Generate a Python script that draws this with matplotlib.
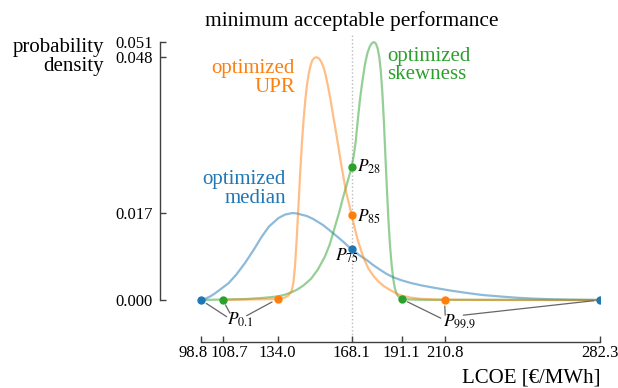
import numpy as np
import matplotlib
matplotlib.use("Agg")
import matplotlib.pyplot as plt
from matplotlib.transforms import ScaledTranslation

plt.rcParams['font.family'] = ['Liberation Serif', 'DejaVu Serif']
plt.rcParams['mathtext.fontset'] = 'stix'

# probability density of LCOE for the three optimized designs
median_lcoe = [98.8, 101.0, 103.0, 105.2, 108.0, 111.4, 115.0, 119.0, 123.0, 126.7, 130.0, 134.4,
               137.5, 140.9, 143.0, 147.5, 150.5, 155.0, 159.6, 164.0, 168.1, 171.5, 175.0, 178.0,
               181.1, 184.0, 187.2, 191.0, 195.0, 200.0, 205.0, 213.0, 221.0, 228.0, 236.3, 244.0,
               251.5, 259.0, 267.0, 275.0, 282.3]
median_pdf = [0.0, 0.0003, 0.0007, 0.0013, 0.0022, 0.0033, 0.0050, 0.0073, 0.0099, 0.0125, 0.0145, 0.0162,
              0.0169, 0.0172, 0.0171, 0.0166, 0.0160, 0.0148, 0.0132, 0.0116, 0.0100, 0.0089, 0.0079, 0.0069,
              0.0060, 0.0052, 0.0045, 0.0039, 0.0034, 0.0029, 0.0025, 0.0019, 0.0014, 0.0010, 0.0007, 0.00045,
              0.00028, 0.00016, 0.00008, 0.00003, 0.0]

upr_lcoe = [108.7, 120.0, 134.0, 137.5, 139.0, 140.5, 141.3, 142.0, 142.8, 143.6, 144.4, 145.2,
            146.0, 146.8, 147.6, 148.4, 149.2, 150.0, 151.0, 152.1, 153.2, 154.2, 155.1, 156.0,
            157.0, 158.2, 159.6, 161.2, 163.2, 165.5, 168.1, 169.6, 171.0, 172.7, 174.2, 175.7,
            178.0, 180.3, 183.0, 186.5, 189.0, 191.7, 195.0, 199.5, 205.0, 210.8, 230.0, 282.3]
upr_pdf = [0.0, 0.0001, 0.0002, 0.0005, 0.0009, 0.0018, 0.0035, 0.0065, 0.0120, 0.0185, 0.0250, 0.0310,
           0.0358, 0.0397, 0.0427, 0.0449, 0.0464, 0.0474, 0.0479, 0.0480, 0.0477, 0.0470, 0.0461, 0.0447,
           0.0427, 0.0400, 0.0364, 0.0324, 0.0270, 0.0214, 0.0168, 0.0140, 0.0117, 0.0094, 0.0077, 0.0063,
           0.0048, 0.0037, 0.0027, 0.0018, 0.0012, 0.0008, 0.0005, 0.00025, 0.00011, 0.00005, 0.00001, 0.0]

skew_lcoe = [98.8, 108.7, 119.8, 127.0, 133.9, 137.0, 139.7, 142.8, 146.0, 149.4, 152.5, 155.8,
             158.0, 160.4, 162.4, 164.2, 166.2, 168.1, 169.2, 170.0, 171.0, 172.0, 173.0, 174.2,
             175.3, 176.5, 177.4, 178.4, 179.2, 180.0, 180.8, 181.5, 182.2, 183.0, 183.7, 184.4,
             185.1, 185.8, 186.5, 187.2, 188.0, 189.0, 190.3, 191.1, 195.0, 200.0, 282.3]
skew_pdf = [0.0, 0.0001, 0.0002, 0.0004, 0.0007, 0.0010, 0.0014, 0.0020, 0.0029, 0.0042, 0.0060, 0.0086,
            0.0110, 0.0145, 0.0174, 0.0204, 0.0234, 0.0263, 0.0290, 0.0316, 0.0360, 0.0400, 0.0432, 0.0466,
            0.0488, 0.0502, 0.0508, 0.0510, 0.0507, 0.0498, 0.0480, 0.0452, 0.0410, 0.0345, 0.0275, 0.0210,
            0.0150, 0.0103, 0.0068, 0.0042, 0.0022, 0.0010, 0.0004, 0.0002, 0.0001, 0.00005, 0.0]

# percentile markers: LCOE position of P0.1, the threshold percentile and P99.9
threshold = 168.1
median_pts = [98.8, 168.1, 282.3]
upr_pts = [134.0, 168.1, 210.8]
skew_pts = [108.7, 168.1, 191.1]
xticks = [98.8, 108.7, 134.0, 168.1, 191.1, 210.8, 282.3]

c_med, c_upr, c_skew = '#1f77b4', '#ff7f0e', '#2ca02c'

fig = plt.figure(figsize=(6.18, 3.88), dpi=100)
ax = fig.add_axes([0.2589, 0.1186, 0.712, 0.7912])

ax.axvline(threshold, color='#bbbbbb', ls=':', lw=1, zorder=0)

curves = [(median_lcoe, median_pdf, median_pts, c_med),
          (skew_lcoe, skew_pdf, skew_pts, c_skew),
          (upr_lcoe, upr_pdf, upr_pts, c_upr)]
for xs, ys, pts, c in curves:
    ax.plot(xs, ys, color=c, alpha=0.5, lw=1.6, zorder=2)
for xs, ys, pts, c in curves:
    ax.plot(pts, np.interp(pts, xs, ys), 'o', color=c, ms=5, zorder=4)

ax.set_xlim(79.94, 282.3)
ax.set_ylim(-0.0083, 0.0524)

peaks = [0.0, max(median_pdf), max(upr_pdf), max(skew_pdf)]
ax.set_yticks(peaks)
ax.set_yticklabels([f'{p:.3f}' for p in peaks])
ax.set_xticks(xticks)
ax.set_xticklabels([f'{x:.1f}' for x in xticks])

for s in ['top', 'right']:
    ax.spines[s].set_visible(False)
ax.spines['left'].set_bounds(0, max(skew_pdf))
ax.spines['bottom'].set_bounds(xticks[0], xticks[-1])
for s in ['left', 'bottom']:
    ax.spines[s].set_color('0.25')
    ax.spines[s].set_linewidth(1.0)
ax.tick_params(direction='in', length=4, width=1, color='0.25', labelsize=12)
ax.tick_params(axis='y', pad=5)
ax.tick_params(axis='x', pad=2)

# push the two crowded labels on the left apart
xlabels = ax.get_xticklabels()
for lab, dx in [(xlabels[0], -8), (xlabels[1], 7)]:
    lab.set_transform(lab.get_transform() + ScaledTranslation(dx / 100, 0, fig.dpi_scale_trans))

fs = 15
ax.text(168.1, 1.0293, 'minimum acceptable performance', transform=ax.get_xaxis_transform(),
        ha='center', va='baseline', fontsize=15.4)
ax.text(-0.1273, 0.8837, 'probability\ndensity', transform=ax.transAxes,
        ha='right', va='baseline', fontsize=fs, linespacing=0.95)
ax.text(1.0, -0.1336, 'LCOE [€/MWh]', transform=ax.transAxes,
        ha='right', va='baseline', fontsize=fs)

ax.text(142.0, 0.04117, 'optimized\nUPR', color=c_upr, ha='right', va='baseline',
        fontsize=fs, linespacing=0.95)
ax.text(137.9, 0.01923, 'optimized\nmedian', color=c_med, ha='right', va='baseline',
        fontsize=fs, linespacing=0.95)
ax.text(184.3, 0.04368, 'optimized\nskewness', color=c_skew, ha='left', va='baseline',
        fontsize=fs, linespacing=0.95)

pfs = 12.5
ax.text(170.55, 0.02536, '$P_{28}$', ha='left', va='baseline', fontsize=pfs)
ax.text(170.55, 0.01548, '$P_{85}$', ha='left', va='baseline', fontsize=pfs)
ax.text(160.4, 0.00777, '$P_{75}$', ha='left', va='baseline', fontsize=pfs)
ax.text(110.76, -0.00494, '$P_{0.1}$', ha='left', va='baseline', fontsize=pfs)
ax.text(210.0, -0.00514, '$P_{99.9}$', ha='left', va='baseline', fontsize=pfs)

# leader lines from the tail percentile labels to their markers
leaders = [((110.6, -0.0033), (median_pts[0], median_lcoe, median_pdf)),
           ((112.1, -0.0026), (skew_pts[0], skew_lcoe, skew_pdf)),
           ((119.8, -0.0031), (upr_pts[0], upr_lcoe, upr_pdf)),
           ((209.1, -0.0036), (skew_pts[2], skew_lcoe, skew_pdf)),
           ((211.1, -0.0030), (upr_pts[2], upr_lcoe, upr_pdf)),
           ((219.4, -0.0030), (median_pts[2], median_lcoe, median_pdf))]
for start, (px, xs, ys) in leaders:
    ax.annotate('', xy=(px, np.interp(px, xs, ys)), xytext=start,
                arrowprops=dict(arrowstyle='-', color='0.4', lw=0.9, shrinkA=0, shrinkB=4.5))

fig.savefig('out.png', dpi=100)
